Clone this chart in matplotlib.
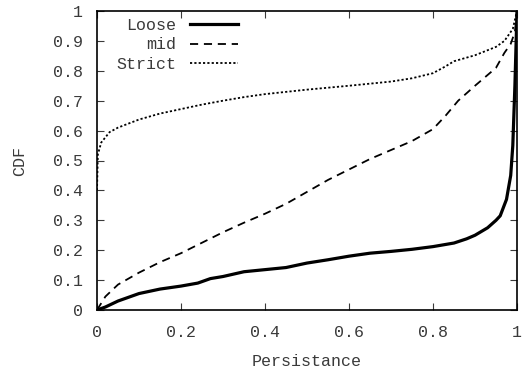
"""
CDF of persistence for Loose / mid / Strict thresholds (gnuplot-style figure).
Output: out.png
"""

import matplotlib
matplotlib.use('Agg')
import matplotlib.pyplot as plt

# ---------------------------------------------------------------- data
loose_x = [0.0, 0.02, 0.05, 0.1, 0.15, 0.2, 0.24, 0.27, 0.3, 0.35, 0.4, 0.45,
           0.5, 0.55, 0.6, 0.65, 0.7, 0.75, 0.8, 0.85, 0.88, 0.9, 0.93, 0.95,
           0.96, 0.975, 0.985, 0.99, 0.995, 1.0]
loose_y = [0.0, 0.01, 0.03, 0.055, 0.07, 0.08, 0.09, 0.105, 0.112, 0.128, 0.135,
           0.142, 0.157, 0.168, 0.18, 0.19, 0.196, 0.203, 0.212, 0.224, 0.238,
           0.25, 0.275, 0.3, 0.315, 0.37, 0.45, 0.55, 0.75, 1.0]

mid_x = [0.0, 0.02, 0.05, 0.1, 0.15, 0.2, 0.25, 0.3, 0.35, 0.4, 0.45, 0.5,
         0.55, 0.6, 0.65, 0.7, 0.75, 0.8, 0.83, 0.86, 0.9, 0.95, 0.97, 0.985,
         0.995, 1.0]
mid_y = [0.0, 0.045, 0.085, 0.125, 0.16, 0.19, 0.225, 0.26, 0.292, 0.322, 0.355,
         0.395, 0.435, 0.47, 0.505, 0.535, 0.565, 0.605, 0.65, 0.7, 0.75, 0.81,
         0.86, 0.89, 0.93, 1.0]

strict_x = [0.0, 0.002, 0.01, 0.03, 0.05, 0.1, 0.15, 0.2, 0.25, 0.3, 0.35, 0.4,
            0.5, 0.6, 0.7, 0.75, 0.8, 0.83, 0.85, 0.9, 0.95, 0.97, 0.99, 1.0]
strict_y = [0.4, 0.52, 0.56, 0.595, 0.61, 0.637, 0.657, 0.672, 0.687, 0.7, 0.712,
            0.722, 0.737, 0.75, 0.764, 0.775, 0.792, 0.815, 0.832, 0.852, 0.88,
            0.9, 0.94, 1.0]

xticks = [0, 0.2, 0.4, 0.6, 0.8, 1]
xtick_labels = ['0', '0.2', '0.4', '0.6', '0.8', '1']
yticks = [0, 0.1, 0.2, 0.3, 0.4, 0.5, 0.6, 0.7, 0.8, 0.9, 1]
ytick_labels = ['0', '0.1', '0.2', '0.3', '0.4', '0.5', '0.6', '0.7', '0.8', '0.9', '1']

# ---------------------------------------------------------------- style
plt.rcParams['font.family'] = ['Liberation Mono', 'DejaVu Sans Mono']
plt.rcParams['font.size'] = 12
INK = '#000000'
LABEL = '#3a3a3a'

fig = plt.figure(figsize=(5.29, 3.68), dpi=100)
fig.patch.set_facecolor('white')
ax = fig.add_axes([97 / 529, 58 / 368, 420 / 529, 299 / 368])

ax.plot(loose_x, loose_y, color=INK, linewidth=2.3, label='Loose')
ax.plot(mid_x, mid_y, color=INK, linewidth=1.3, dashes=(4.5, 3.2), label='mid')
ax.plot(strict_x, strict_y, color=INK, linewidth=1.3, dashes=(1.2, 1.2), label='Strict')

ax.set_xlim(0, 1)
ax.set_ylim(0, 1)
ax.set_xticks(xticks)
ax.set_xticklabels(xtick_labels)
ax.set_yticks(yticks)
ax.set_yticklabels(ytick_labels)
ax.tick_params(direction='in', top=True, right=True, length=5, width=0.8,
               labelsize=12, colors=LABEL)
ax.tick_params(axis='x', pad=11)
ax.tick_params(axis='y', pad=10)
for s in ax.spines.values():
    s.set_linewidth(1.2)

ax.set_xlabel('Persistance', fontsize=12, color=LABEL, labelpad=10)
ax.set_ylabel('CDF', fontsize=12, color=LABEL, labelpad=19)

leg = ax.legend(loc='upper left', frameon=False, markerfirst=False,
                handlelength=2.9, handletextpad=0.8, labelspacing=0.28,
                borderaxespad=0.0, bbox_to_anchor=(0.03, 1.0), fontsize=12)
for t in leg.get_texts():
    t.set_ha('right')
    t.set_color(LABEL)

fig.savefig('out.png', dpi=100, facecolor='white')
